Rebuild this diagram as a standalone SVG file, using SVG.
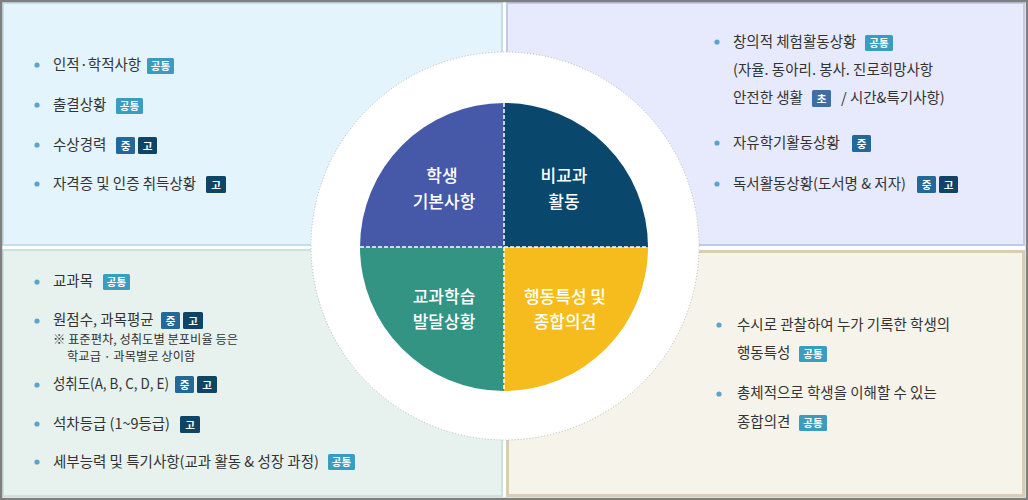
<svg xmlns="http://www.w3.org/2000/svg" width="1028" height="500" viewBox="0 0 1028 500">
  <style>
    .t { font-family: "Noto Sans CJK KR", "Noto Sans", sans-serif; font-size: 14.5px; fill: #333333; }
    .s { font-family: "Noto Sans CJK KR", "Noto Sans", sans-serif; font-size: 12.3px; fill: #333333; }
    .c { font-family: "Noto Sans CJK KR", "Noto Sans", sans-serif; font-size: 17px; fill: #ffffff; text-anchor: middle; font-weight: 500; }
    .bt { font-family: "Noto Sans CJK KR", "Noto Sans", sans-serif; font-size: 10.5px; fill: #ffffff; text-anchor: middle; font-weight: 700; }
    .dot { fill: #5BA4CB; }
    .gt { fill: #3A9DC0; }
    .jg { fill: #22699A; }
    .go { fill: #0E4466; }
    .ch { fill: #3F6DA6; }
    .div { stroke: #ffffff; stroke-width: 1.5; stroke-dasharray: 4 2; fill: none; }
  </style>
  <rect x="0" y="0" width="1028" height="500" fill="#ffffff"/>
  <!-- panels -->
  <g id="panel-tl">
    <rect x="3" y="3" width="499" height="242" fill="#E3F4FD" stroke="#C6DEEA" stroke-width="2"/>
  </g>
  <g id="panel-tr">
    <rect x="507" y="3" width="517" height="242" fill="#E6EAFC" stroke="#C3C9E8" stroke-width="2"/>
  </g>
  <g id="panel-bl">
    <rect x="3" y="250" width="499" height="246" fill="#E7F2EF" stroke="#CDE2DB" stroke-width="2"/>
  </g>
  <g id="panel-br">
    <rect x="507.5" y="251.5" width="516" height="244" fill="#F6F4EA" stroke="#D8CFB2" stroke-width="3"/>
  </g>
  <rect x="1" y="1" width="1026" height="498" fill="none" stroke="#7F7F7F" stroke-width="2.5"/>

  <!-- center circle -->
  <g id="center-ring">
    <circle cx="505" cy="246" r="194" fill="#ffffff" stroke="#B8B8B8" stroke-width="1" stroke-dasharray="1 2"/>
  </g>
  <g id="q-student">
    <path d="M504,247 L360,247 A144,144 0 0 1 504,103 Z" fill="#4659A9"/>
    <text class="c" x="442" y="182">학생</text>
    <text class="c" x="444" y="208">기본사항</text>
  </g>
  <g id="q-extra">
    <path d="M504,247 L504,103 A144,144 0 0 1 648,247 Z" fill="#0A476D"/>
    <text class="c" x="564" y="182">비교과</text>
    <text class="c" x="564" y="208">활동</text>
  </g>
  <g id="q-subject">
    <path d="M504,247 L504,391 A144,144 0 0 1 360,247 Z" fill="#339484"/>
    <text class="c" x="444" y="303">교과학습</text>
    <text class="c" x="444" y="328">발달상황</text>
  </g>
  <g id="q-behavior">
    <path d="M504,247 L648,247 A144,144 0 0 1 504,391 Z" fill="#F6BC1E"/>
    <text class="c" x="565" y="303">행동특성 및</text>
    <text class="c" x="565" y="328">종합의견</text>
  </g>
  <g id="connectors">
    <line class="div" x1="504" y1="103" x2="504" y2="391"/>
    <line class="div" x1="360" y1="247" x2="648" y2="247"/>
  </g>

  <!-- top-left list -->
  <g id="list-tl">
    <circle class="dot" cx="37" cy="65" r="2.6"/>
    <text class="t" x="53" y="70">인적·학적사항</text>
    <rect class="gt" x="147" y="58" width="27" height="16" rx="1.5"/><text class="bt" x="160.5" y="69.5">공통</text>

    <circle class="dot" cx="37" cy="105" r="2.6"/>
    <text class="t" x="53" y="110">출결상황</text>
    <rect class="gt" x="116" y="98" width="27" height="16" rx="1.5"/><text class="bt" x="129.5" y="109.5">공통</text>

    <circle class="dot" cx="37" cy="145" r="2.6"/>
    <text class="t" x="53" y="150">수상경력</text>
    <rect class="jg" x="116" y="137" width="19" height="17" rx="1.5"/><text class="bt" x="125.5" y="149.5">중</text>
    <rect class="go" x="138" y="137" width="19" height="17" rx="1.5"/><text class="bt" x="147.5" y="149.5">고</text>

    <circle class="dot" cx="37" cy="184" r="2.6"/>
    <text class="t" x="53" y="189">자격증 및 인증 취득상황</text>
    <rect class="go" x="206" y="176" width="20" height="17" rx="1.5"/><text class="bt" x="216" y="188.5">고</text>
  </g>

  <!-- top-right list -->
  <g id="list-tr">
    <circle class="dot" cx="717" cy="42" r="2.6"/>
    <text class="t" x="733" y="47">창의적 체험활동상황</text>
    <rect class="gt" x="865" y="35" width="28" height="16" rx="1.5"/><text class="bt" x="879" y="46.5">공통</text>
    <text class="t" x="733" y="75">(자율. 동아리. 봉사. 진로희망사항</text>
    <text class="t" x="733" y="103">안전한 생활</text>
    <rect class="ch" x="812" y="90" width="19" height="17" rx="1.5"/><text class="bt" x="821.5" y="102.5">초</text>
    <text class="t" x="841" y="103">/ 시간&amp;특기사항)</text>

    <circle class="dot" cx="717" cy="143" r="2.6"/>
    <text class="t" x="733" y="148">자유학기활동상황</text>
    <rect class="jg" x="852" y="135" width="19" height="17" rx="1.5"/><text class="bt" x="861.5" y="147.5">중</text>

    <circle class="dot" cx="717" cy="184" r="2.6"/>
    <text class="t" x="733" y="189">독서활동상황(도서명 &amp; 저자)</text>
    <rect class="jg" x="917" y="176" width="19" height="17" rx="1.5"/><text class="bt" x="926.5" y="188.5">중</text>
    <rect class="go" x="939" y="176" width="19" height="17" rx="1.5"/><text class="bt" x="948.5" y="188.5">고</text>
  </g>

  <!-- bottom-left list -->
  <g id="list-bl">
    <circle class="dot" cx="37" cy="282" r="2.6"/>
    <text class="t" x="53" y="286">교과목</text>
    <rect class="gt" x="103" y="274" width="27" height="16" rx="1.5"/><text class="bt" x="116.5" y="285.5">공통</text>

    <circle class="dot" cx="37" cy="321" r="2.6"/>
    <text class="t" x="53" y="325">원점수, 과목평균</text>
    <rect class="jg" x="161" y="312" width="19" height="17" rx="1.5"/><text class="bt" x="170.5" y="324.5">중</text>
    <rect class="go" x="183" y="312" width="20" height="17" rx="1.5"/><text class="bt" x="193" y="324.5">고</text>
    <text class="s" x="53" y="344">※ 표준편차, 성취도별 분포비율 등은</text>
    <text class="s" x="67" y="361">학교급 · 과목별로 상이함</text>

    <circle class="dot" cx="37" cy="385" r="2.6"/>
    <text class="t" x="53" y="389" textLength="116" lengthAdjust="spacingAndGlyphs">성취도(A, B, C, D, E)</text>
    <rect class="jg" x="175" y="376" width="19" height="17" rx="1.5"/><text class="bt" x="184.5" y="388.5">중</text>
    <rect class="go" x="197" y="376" width="20" height="17" rx="1.5"/><text class="bt" x="207" y="388.5">고</text>

    <circle class="dot" cx="37" cy="424" r="2.6"/>
    <text class="t" x="53" y="429" textLength="117" lengthAdjust="spacingAndGlyphs">석차등급 (1~9등급)</text>
    <rect class="go" x="180" y="416" width="20" height="17" rx="1.5"/><text class="bt" x="190" y="428.5">고</text>

    <circle class="dot" cx="37" cy="462" r="2.6"/>
    <text class="t" x="53" y="467">세부능력 및 특기사항(교과 활동 &amp; 성장 과정)</text>
    <rect class="gt" x="328" y="454" width="27" height="16" rx="1.5"/><text class="bt" x="341.5" y="465.5">공통</text>
  </g>

  <!-- bottom-right list -->
  <g id="list-br">
    <circle class="dot" cx="719" cy="325" r="2.6"/>
    <text class="t" x="737" y="330">수시로 관찰하여 누가 기록한 학생의</text>
    <text class="t" x="737" y="358">행동특성</text>
    <rect class="gt" x="799" y="346" width="28" height="16" rx="1.5"/><text class="bt" x="813" y="357.5">공통</text>

    <circle class="dot" cx="719" cy="394" r="2.6"/>
    <text class="t" x="737" y="398">총체적으로 학생을 이해할 수 있는</text>
    <text class="t" x="737" y="427">종합의견</text>
    <rect class="gt" x="799" y="415" width="28" height="16" rx="1.5"/><text class="bt" x="813" y="426.5">공통</text>
  </g>
</svg>
